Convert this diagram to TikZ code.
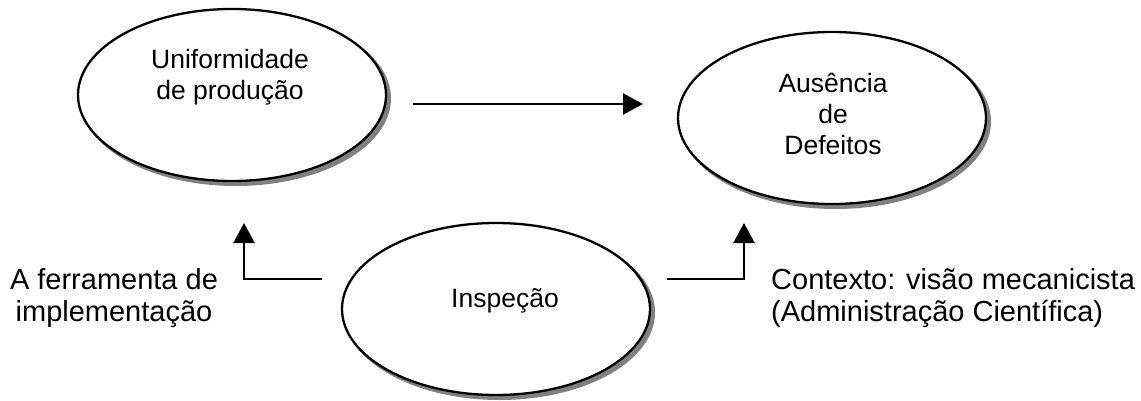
\documentclass[tikz,border=0pt]{standalone}
\usepackage{fontspec}
\setmainfont{Liberation Sans}
\usetikzlibrary{arrows.meta,shapes.geometric}

\begin{document}
\begin{tikzpicture}[x=1pt,y=-1pt,
  oval/.style={ellipse,draw=black,line width=2.3pt,fill=white,
    minimum width=308pt,minimum height=172pt,inner sep=0pt},
  ovalshadow/.style={fill=black!50},
  intext/.style={align=center,inner sep=0pt,
    font=\fontsize{26.5}{31}\selectfont},
  sidetext/.style={inner sep=0pt,font=\fontsize{29}{32}\selectfont},
  link/.style={line width=2.3pt,-{Triangle[width=21pt,length=20pt]}}]

\useasboundingbox (0,0) rectangle (1141,401);

% grey shadows behind the ovals
\fill[ovalshadow] (235.5,98.5) ellipse [x radius=155.5, y radius=87.5];
\fill[ovalshadow] (835.5,121.5) ellipse [x radius=155.5, y radius=87.5];
\fill[ovalshadow] (499.5,312.5) ellipse [x radius=155.5, y radius=87.5];

% ovals
\node[oval] (unif) at (232,95) {};
\node[oval] (ausen) at (832,118) {};
\node[oval] (insp) at (496,309) {};

% oval texts
\node[intext] (unifT) at (230,77) {Uniformidade\\de produção};
\node[intext] (ausenT) at (833,114) {Ausência\\de\\Defeitos};
\node[intext] (inspT) at (505,301) {Inspeção};

% side labels
\node[sidetext,align=center] (tool) at (114,298) {A ferramenta de\\implementação};
\node[sidetext,align=left,anchor=west] (ctx) at (771,298) {Contexto: visão mecanicista\\(Administração Científica)};

% connector end points
\coordinate (topS) at (413,104);
\coordinate (topE) at (643,104);
\coordinate (leftS) at (322,279);
\coordinate (leftE) at (244,223);
\coordinate (rightS) at (667,279);
\coordinate (rightE) at (744,223);

% connectors
\draw[link] (topS) -- (topE);
\draw[link] (leftS) -| (leftE);
\draw[link] (rightS) -| (rightE);
\end{tikzpicture}
\end{document}
